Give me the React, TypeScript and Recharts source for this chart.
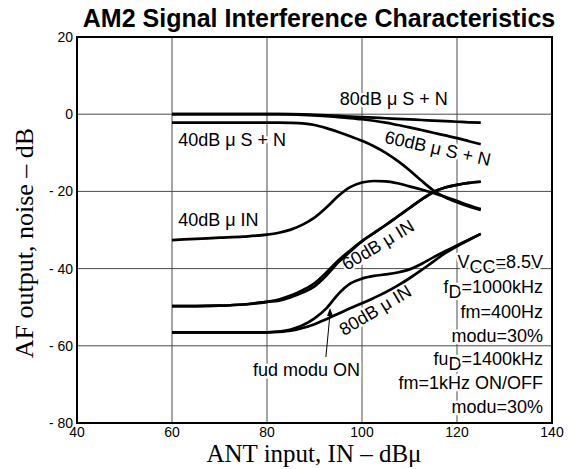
import { LineChart, Line, XAxis, YAxis, CartesianGrid, Customized } from 'recharts';

const inputLevels = [60, 65, 70, 75, 80, 82.5, 85, 87.5, 90, 92.5, 95, 97.5, 100, 102.5, 105, 107.5, 110, 112.5, 115, 117.5, 120, 122.5, 125];

const sn80 = [0, 0, 0, 0, 0, 0, 0, -0.05, -0.15, -0.3, -0.45, -0.6, -0.75, -0.9, -1.05, -1.2, -1.35, -1.5, -1.65, -1.8, -1.95, -2.1, -2.2];
const sn60 = [0, 0, 0, 0, 0, 0, -0.05, -0.15, -0.3, -0.5, -0.75, -1.0, -1.3, -1.7, -2.2, -2.8, -3.4, -4.1, -4.8, -5.5, -6.2, -7.0, -7.8];
const sn40 = [-2.2, -2.2, -2.2, -2.2, -2.2, -2.2, -2.25, -2.4, -2.8, -3.6, -4.6, -5.7, -6.9, -8.3, -10.0, -12.1, -14.5, -17.2, -19.7, -21.5, -22.8, -23.9, -24.8];
const in40 = [-32.6, -32.3, -32.0, -31.7, -31.2, -30.7, -29.9, -28.6, -26.8, -24.2, -21.2, -18.9, -17.7, -17.3, -17.4, -17.9, -18.7, -19.5, -20.4, -21.4, -22.5, -23.6, -24.6];
const in60On = [-49.7, -49.7, -49.6, -49.3, -48.6, -48.0, -47.0, -45.6, -43.8, -41.0, -37.9, -35.3, -32.9, -30.8, -28.7, -26.5, -24.3, -22.1, -20.2, -19.0, -18.3, -17.8, -17.5];
const in60Off = [-49.7, -49.7, -49.6, -49.3, -48.6, -48.3, -47.4, -46.2, -44.6, -41.8, -38.4, -35.6, -32.9, -30.8, -28.7, -26.5, -24.3, -22.1, -20.2, -19.0, -18.3, -17.8, -17.5];
const in80On = [-56.5, -56.5, -56.5, -56.5, -56.5, -56.3, -55.8, -54.7, -52.9, -50.3, -46.6, -43.9, -42.6, -41.9, -41.5, -41.0, -40.2, -38.8, -37.1, -35.5, -34.0, -32.5, -31.0];
const in80Off = [-56.5, -56.5, -56.5, -56.5, -56.5, -56.4, -56.1, -55.4, -54.4, -53.1, -51.7, -50.3, -49.0, -47.6, -46.1, -44.4, -42.5, -40.4, -38.2, -36.0, -34.2, -32.6, -31.0];

const series = [
  { key: 'sn80', values: sn80 },
  { key: 'sn60', values: sn60 },
  { key: 'sn40', values: sn40 },
  { key: 'in40', values: in40 },
  { key: 'in60On', values: in60On },
  { key: 'in60Off', values: in60Off },
  { key: 'in80On', values: in80On },
  { key: 'in80Off', values: in80Off },
];

const xTicks = [40, 60, 80, 100, 120, 140];
const yTicks = [20, 0, -20, -40, -60, -80];

const conditions = ['VCC=8.5V', 'fD=1000kHz', 'fm=400Hz', 'modu=30%', 'fuD=1400kHz', 'fm=1kHz ON/OFF', 'modu=30%'];

const data = inputLevels.map((x, i) => {
  const row: Record<string, number> = { x };
  series.forEach((s) => { row[s.key] = s.values[i]; });
  return row;
});

// plot box (matches chart margins + axis sizes below)
const PLOT = { left: 77, top: 37, width: 475, height: 386 };
const px = (v: number) => PLOT.left + ((v - 40) / 100) * PLOT.width;
const py = (v: number) => PLOT.top + ((20 - v) / 100) * PLOT.height;

const SANS = '"Liberation Sans", Arial, Helvetica, sans-serif';
const SERIF = '"Liberation Serif", "Times New Roman", serif';

const halo = { stroke: '#fff', strokeWidth: 5, paintOrder: 'stroke' as const, strokeLinejoin: 'round' as const };

// subscript helper: VCC / fD / fuD
const renderCond = (s: string) => {
  const m = s.match(/^(V|f|fu)(CC|D)(=.*)$/);
  if (!m) return s;
  return [
    <tspan key="a">{m[1]}</tspan>,
    <tspan key="b" dy={5}>{m[2]}</tspan>,
    <tspan key="c" dy={-5}>{m[3]}</tspan>,
  ];
};

const Labels = () => {
  const t = (x: number, y: number, text: string, angle = 0, anchor: 'start' | 'middle' | 'end' = 'start') => (
    <text
      key={text + x + y}
      x={px(x)}
      y={py(y)}
      textAnchor={anchor}
      transform={angle ? `rotate(${angle} ${px(x)} ${py(y)})` : undefined}
      fontFamily={SANS}
      fontSize={18}
      fill="#000"
      {...halo}
    >
      {text}
    </text>
  );
  const condY = [-39.8, -46.3, -52.8, -59.0, -65.0, -71.2, -77.4];
  return (
    <g>
      {t(106.7, 2.4, '80dB μ S + N', 0, 'middle')}
      {t(61.3, -8.2, '40dB μ S + N')}
      {t(104.6, -7.4, '60dB μ S + N', 12.5)}
      {t(61.3, -29.0, '40dB μ IN')}
      {t(96.8, -40.6, '60dB μ IN', -31)}
      {t(96.2, -57.5, '80dB μ IN', -31)}
      {t(77.05, -67.8, 'fud modu ON')}
      {conditions.map((c, i) => (
        <text key={i} x={px(138.1)} y={py(condY[i])} textAnchor="end" fontFamily={SANS} fontSize={18} fill="#000" {...halo}>
          {renderCond(c)}
        </text>
      ))}
    </g>
  );
};

const Frame = () => {
  const ax = px(92.4), ay = py(-62.9), tx = px(93.26), ty = py(-50.2);
  return (
    <g>
      <rect x={PLOT.left} y={PLOT.top} width={PLOT.width} height={PLOT.height} fill="none" stroke="#000" strokeWidth={2} />
      <line x1={ax} y1={ay} x2={tx} y2={ty + 6} stroke="#000" strokeWidth={1} />
      <polygon points={`${tx},${ty} ${tx - 3},${ty + 8} ${tx + 3},${ty + 8}`} fill="#000" />
      <text x={319} y={27} textAnchor="middle" fontFamily={SANS} fontWeight="bold" fontSize={25} fill="#000">
        AM2 Signal Interference Characteristics
      </text>
      <text x={314} y={462} textAnchor="middle" fontFamily={SERIF} fontSize={25} fill="#000">
        ANT input, IN – dBμ
      </text>
      <text x={33} y={243} textAnchor="middle" transform="rotate(-90 33 243)" fontFamily={SERIF} fontSize={26} fill="#000">
        AF output, noise – dB
      </text>
    </g>
  );
};

const fmtY = (v: number) => (v < 0 ? `- ${-v}` : `${v}`);

export default function App() {
  return (
    <div style={{ width: 582, height: 469, background: '#fff' }}>
      <style>{'body{margin:0}'}</style>
      <LineChart width={582} height={469} data={data} margin={{ top: 37, right: 30, bottom: 0, left: 0 }}>
        <CartesianGrid stroke="#4a4a4a" strokeWidth={1} />
        <XAxis
          dataKey="x"
          type="number"
          domain={[40, 140]}
          ticks={xTicks}
          height={46}
          tickLine={false}
          axisLine={false}
          tickSize={3}
          tickMargin={1}
          tick={{ fontSize: 14, fill: '#000', fontFamily: SANS }}
        />
        <YAxis
          type="number"
          domain={[-80, 20]}
          ticks={yTicks}
          width={77}
          tickLine={false}
          axisLine={false}
          tickSize={4}
          tickMargin={0}
          tickFormatter={fmtY}
          tick={{ fontSize: 14, fill: '#000', fontFamily: SANS }}
        />
        <Customized component={Labels} />
        {series.map((s) => (
          <Line
            key={s.key}
            dataKey={s.key}
            type="monotone"
            stroke="#000"
            strokeWidth={2.7}
            dot={false}
            activeDot={false}
            isAnimationActive={false}
          />
        ))}
        <Customized component={Frame} />
      </LineChart>
    </div>
  );
}
